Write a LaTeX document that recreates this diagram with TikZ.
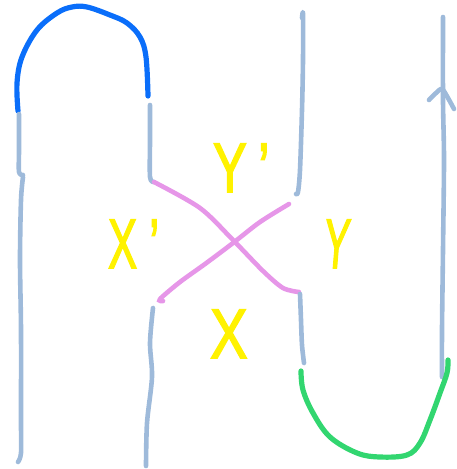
\documentclass[tikz,border=0pt]{standalone}
\usepackage{fontspec}
\setmainfont{Liberation Sans}
\newfontfamily\labfont[FakeBold=2.5]{Liberation Sans}
\definecolor{greyblue}{RGB}{158,186,218}
\definecolor{archblue}{RGB}{10,110,250}
\definecolor{pinkline}{RGB}{230,150,232}
\definecolor{greenline}{RGB}{50,214,112}
\definecolor{labyellow}{RGB}{255,242,0}
\tikzset{
  strand/.style={draw=greyblue, line width=4.6pt, line cap=round, line join=round},
  cupline/.style={draw=archblue, line width=5.2pt, line cap=round},
  capline/.style={draw=greenline, line width=5.2pt, line cap=round},
  crossline/.style={draw=pinkline, line width=4.6pt, line cap=round},
  lab/.style={text=labyellow, inner sep=0pt, anchor=base west, transform shape, font=\labfont\fontsize{70}{70}\selectfont}
}
\begin{document}
\begin{tikzpicture}[x=1pt,y=-1pt]
\useasboundingbox (0,0) rectangle (456,469);
% blue arc
\draw[cupline] plot[smooth, tension=0.6] coordinates {(18,111) (17,83) (22,57) (37,30) (57,13) (72,7) (87,7) (110,15) (127,23) (140,37) (146,57) (148,96)};
% left strand
\draw[strand] plot[smooth] coordinates {(19,114) (19,150) (19,172) (23,175)};
\draw[strand] plot[smooth] coordinates {(23,177) (21,200) (20,260) (21,330) (21,420) (21,453) (18,462)};
% second strand upper
\draw[strand] plot[smooth] coordinates {(150,105) (150,140) (150,177) (154,182)};
% pink crossings
\draw[crossline] plot[smooth] coordinates {(154,182) (200,208) (233,240) (263,271) (283,288) (299,292)};
\draw[crossline] plot[smooth] coordinates {(289,204) (260,222) (233,243) (205,264) (180,282) (160,299) (163,301)};
% middle lower strand
\draw[strand] plot[smooth] coordinates {(153,308) (150,343) (152,377) (147,423) (146,466)};
% middle right strand upper
\draw[strand] plot[smooth] coordinates {(302,18) (303,14) (303,60) (302,110) (300,170) (298,192) (296,194)};
% middle right strand lower
\draw[strand] plot[smooth] coordinates {(300,294) (301,320) (302,345) (304,363)};
% right strand
\draw[strand] plot[smooth] coordinates {(443,17) (443,100) (444,160) (443,250) (442,330) (442,377)};
\draw[strand] plot[smooth] coordinates {(429,100) (436,93) (442,89) (448,98) (454,109)};
% green arc
\draw[capline] plot[smooth, tension=0.6] coordinates {(301,371) (303,390) (313,413) (330,437) (357,453) (380,457) (407,455) (420,443) (430,420) (440,393) (447,373) (448,360)};
% labels
\node[lab, xscale=0.62] (xp) at (108,268) {X\hspace{20pt}’};
\node[lab, xscale=0.72] (yp) at (213,192) {Y\hspace{16pt}’};
\node[lab, xscale=0.55, xslant=0.15] (yy) at (322,268) {Y};
\node[lab, xscale=0.80] (xx) at (210,358) {X};
\end{tikzpicture}
\end{document}
